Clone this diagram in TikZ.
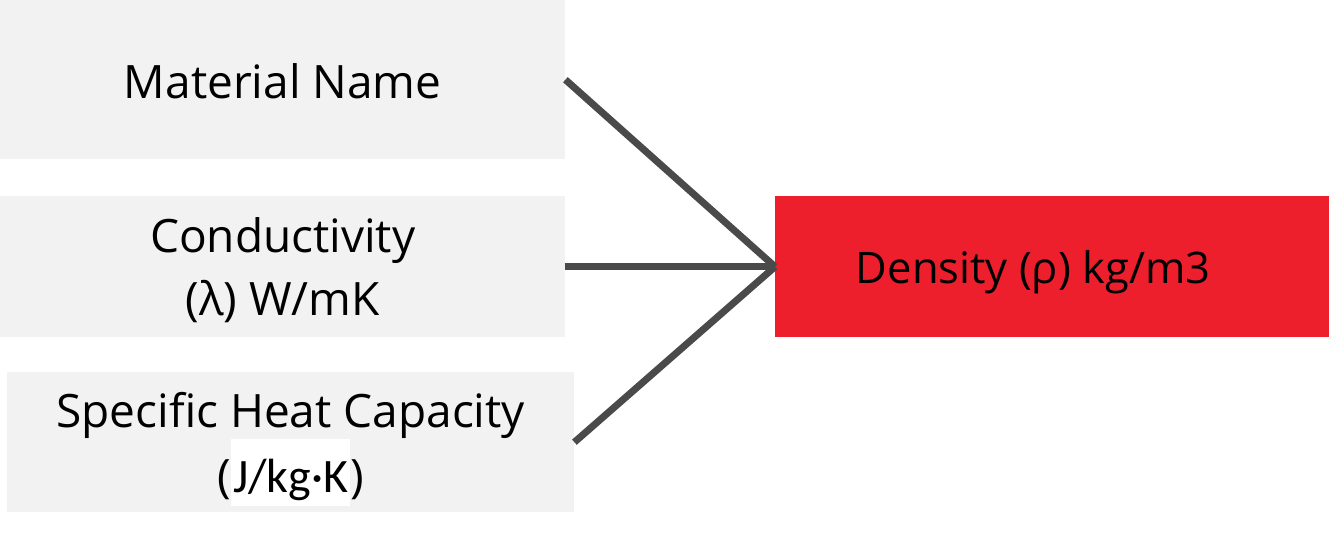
\documentclass[tikz,border=0pt]{standalone}
\usepackage{fontspec}
\setmainfont{Open Sans}
\newfontfamily\calfont{Carlito}
\definecolor{boxgray}{HTML}{F2F2F2}
\definecolor{denred}{HTML}{ED1F2C}
\definecolor{linegray}{HTML}{4A4A4A}
\begin{document}
\begin{tikzpicture}[x=1pt,y=-1pt,
  box/.style={fill=boxgray, draw=none, inner sep=0pt, anchor=north west,
    align=center, font=\fontsize{46}{63}\selectfont},
  redbox/.style={fill=denred, draw=none, inner sep=0pt, anchor=north west,
    font=\fontsize{43.5}{55}\selectfont},
  conn/.style={draw=linegray, line width=7pt}]
\useasboundingbox (0,0) rectangle (1329,537);
\node[box, minimum width=565pt, minimum height=159pt, text height=40pt, text depth=3pt] (mat) at (0,0) {Material Name};
\node[box, minimum width=565pt, minimum height=141pt] (cond) at (0,196)
  {\rule{0pt}{46pt}Conductivity\\(λ) W/mK\rule[-12pt]{0pt}{1pt}};
\node[box, minimum width=567pt, minimum height=140pt] (spec) at (7,372)
  {\rule{0pt}{49pt}Specific Heat Capacity\\({\setlength{\fboxsep}{0pt}\colorbox{white}{\rule[-14pt]{0pt}{67pt}\fontsize{48}{55}\calfont\hspace{2pt}J/kg·K\hspace{2pt}}})};
\node[redbox, minimum width=554pt, minimum height=141pt, text height=40pt, text depth=7pt] (den) at (775,196) {Density (ρ) kg/m3\rule{38pt}{0pt}};
\draw[conn] (mat.east) -- (den.west);
\draw[conn] (cond.east) -- (den.west);
\draw[conn] (spec.east) -- (den.west);
\end{tikzpicture}
\end{document}
